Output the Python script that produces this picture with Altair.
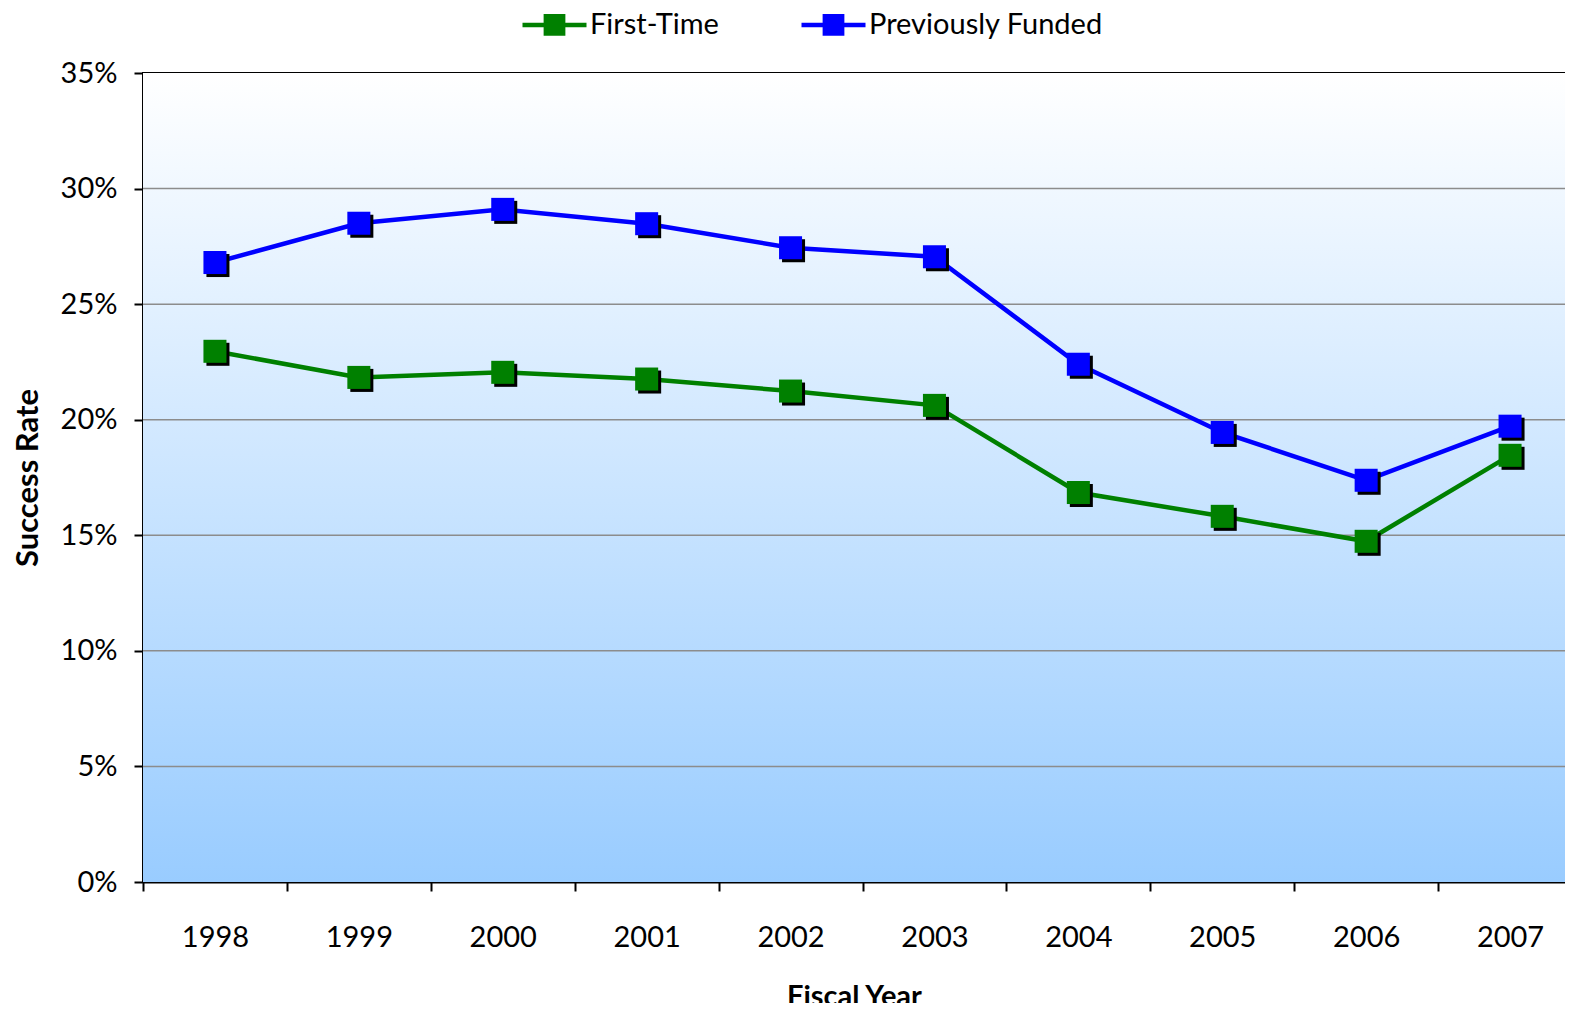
import altair as alt
import pandas as pd

years = [1998, 1999, 2000, 2001, 2002, 2003, 2004, 2005, 2006, 2007]
first_time = [22.96, 21.83, 22.05, 21.76, 21.24, 20.62, 16.85, 15.82, 14.74, 18.46]
prev_funded = [26.8, 28.5, 29.1, 28.48, 27.44, 27.05, 22.4, 19.45, 17.38, 19.72]
series_names = ["First-Time", "Previously Funded"]
series_colors = ["#008000", "#0000FF"]
y_ticks = [0, 0.05, 0.10, 0.15, 0.20, 0.25, 0.30, 0.35]

rows = []
for name, vals in zip(series_names, [first_time, prev_funded]):
    for yr, v in zip(years, vals):
        rows.append({"Year": yr, "Series": name, "Rate": v / 100.0})
df = pd.DataFrame(rows)
grid_df = pd.DataFrame({"Rate": y_ticks[1:-1]})

W, H = 1422, 809
STEP = 143.9
x_domain = [1997.5, 1997.5 + W / STEP]
FONT = "Lato"

x_enc = alt.X(
    "Year:Q",
    scale=alt.Scale(domain=x_domain, nice=False, zero=False),
    axis=alt.Axis(
        values=[y - 0.5 for y in years],
        labelExpr="format(datum.value + 0.5, 'd')",
        labelOffset=STEP / 2,
        labelFlush=False,
        grid=False,
        title="Fiscal Year",
        tickSize=9,
        tickWidth=2,
        tickColor="black",
        domainColor="black",
        domainWidth=2,
        labelPadding=32,
        titlePadding=30,
    ),
)
y_enc = alt.Y(
    "Rate:Q",
    scale=alt.Scale(domain=[0, 0.35], nice=False),
    axis=alt.Axis(
        values=y_ticks,
        format=".0%",
        grid=False,
        title="Success Rate",
        titleFontSize=31,
        tickSize=9,
        tickWidth=2,
        tickColor="black",
        domainColor="black",
        domainWidth=2,
        labelPadding=17,
        labelFlush=False,
        titlePadding=16,
    ),
)
color_scale = alt.Scale(domain=series_names, range=series_colors)

bg = alt.Chart(alt.Data(values=[{"a": 1}])).mark_rect(
    color=alt.LinearGradient(
        gradient="linear",
        stops=[alt.GradientStop(color="#FFFFFF", offset=0),
               alt.GradientStop(color="#99CCFF", offset=1)],
        x1=0, x2=0, y1=0, y2=1,
    )
).encode(x=alt.value(0), x2=alt.value(W), y=alt.value(0), y2=alt.value(H))

grid = alt.Chart(grid_df).mark_rule(color="#8c8c8c", strokeWidth=1.5).encode(
    y=alt.Y("Rate:Q", scale=alt.Scale(domain=[0, 0.35], nice=False))
)

base = alt.Chart(df)

# legend symbol: a line with a (stroke-filled) square in the middle
legend_path = "M-1,0 L1,0"
for yy in ["-0.27", "-0.18", "-0.09", "0.09", "0.18", "0.27"]:
    legend_path += f" M-0.34,{yy} L0.34,{yy}"
legend_path += " M-0.34,0 L0.34,0"

lines = base.mark_line(strokeWidth=4.5).encode(
    x=x_enc, y=y_enc,
    color=alt.Color("Series:N", scale=color_scale,
                    legend=alt.Legend(
                        title=None, orient="none", direction="horizontal",
                        legendX=377, legendY=-83,
                        labelFontSize=29, labelFont=FONT, labelColor="black",
                        labelLimit=500,
                        labelOffset=1, columnPadding=73, padding=0,
                        symbolType=legend_path, symbolSize=4096, symbolStrokeWidth=4.5,
                    )),
    detail="Series:N",
)

shadow_path = "M-0.74,-0.74 L1.26,-0.74 L1.26,1.26 L-0.74,1.26 Z"
shadows = base.mark_point(shape=shadow_path, filled=True, size=530, color="black", opacity=1).encode(
    x="Year:Q", y="Rate:Q", detail="Series:N"
)

squares = base.mark_point(shape="square", filled=True, size=530, opacity=1).encode(
    x="Year:Q", y="Rate:Q",
    fill=alt.Fill("Series:N", scale=color_scale, legend=None),
)

chart = alt.layer(bg, grid, lines, shadows, squares).properties(
    width=W, height=H,
    background="white",
    autosize=alt.AutoSizeParams(type="none"),
    padding={"left": 135, "top": 65, "right": 0, "bottom": 121},
).configure_view(
    stroke="black", strokeWidth=2
).configure_axis(
    labelFont=FONT, labelFontSize=29, labelColor="black",
    titleFont=FONT, titleFontSize=29, titleFontWeight="bold", titleColor="black",
)

chart.save("out.html", embed_options={"renderer": "svg", "actions": False})
